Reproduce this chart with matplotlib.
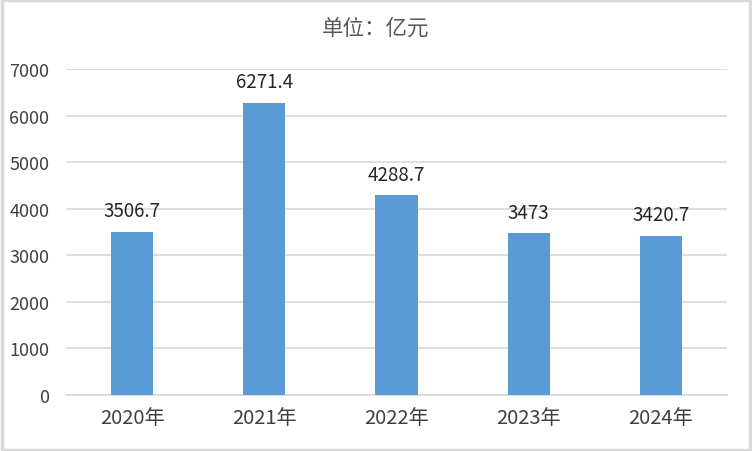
import matplotlib.pyplot as plt
from matplotlib.patches import Rectangle

plt.rcParams['font.family'] = ['Noto Sans CJK SC', 'DejaVu Sans']

years = ['2020年', '2021年', '2022年', '2023年', '2024年']
values = [3506.7, 6271.4, 4288.7, 3473, 3420.7]
labels = ['3506.7', '6271.4', '4288.7', '3473', '3420.7']
yticks = [0, 1000, 2000, 3000, 4000, 5000, 6000, 7000]

fig = plt.figure(figsize=(7.52, 4.52), dpi=100)
fig.patch.set_facecolor('white')
fig.patches.append(Rectangle((0.002, 0.003), 0.996, 0.994, transform=fig.transFigure,
                             fill=False, edgecolor='#d9d9d9', linewidth=2.5))

ax = fig.add_axes([0.0878, 0.1239, 0.879, 0.7212])
x = list(range(len(years)))
ax.bar(x, values, width=0.32, color='#5b9bd5', zorder=3)
for xi, v, lab in zip(x, values, labels):
    ax.text(xi, v + 450, lab, ha='center', va='center', fontsize=13.5, color='#262626')

ax.set_xlim(-0.5, len(years) - 0.5)
ax.set_ylim(0, 7000)
ax.set_yticks(yticks)
ax.set_yticklabels([str(t) for t in yticks])
ax.set_xticks(x)
ax.set_xticklabels(years)
ax.grid(axis='y', color='#d9d9d9', linewidth=1.2, zorder=0)
for s in ['top', 'right', 'left']:
    ax.spines[s].set_visible(False)
ax.spines['bottom'].set_color('#d9d9d9')
ax.spines['bottom'].set_linewidth(1.2)
ax.tick_params(axis='y', length=0, pad=12, labelsize=13, labelcolor='#404040')
ax.tick_params(axis='x', length=0, pad=9, labelsize=14.5, labelcolor='#404040')

fig.text(0.5, 0.937, '单位：亿元', ha='center', va='center', fontsize=15.5, color='#595959')

fig.savefig('out.png', dpi=100)
